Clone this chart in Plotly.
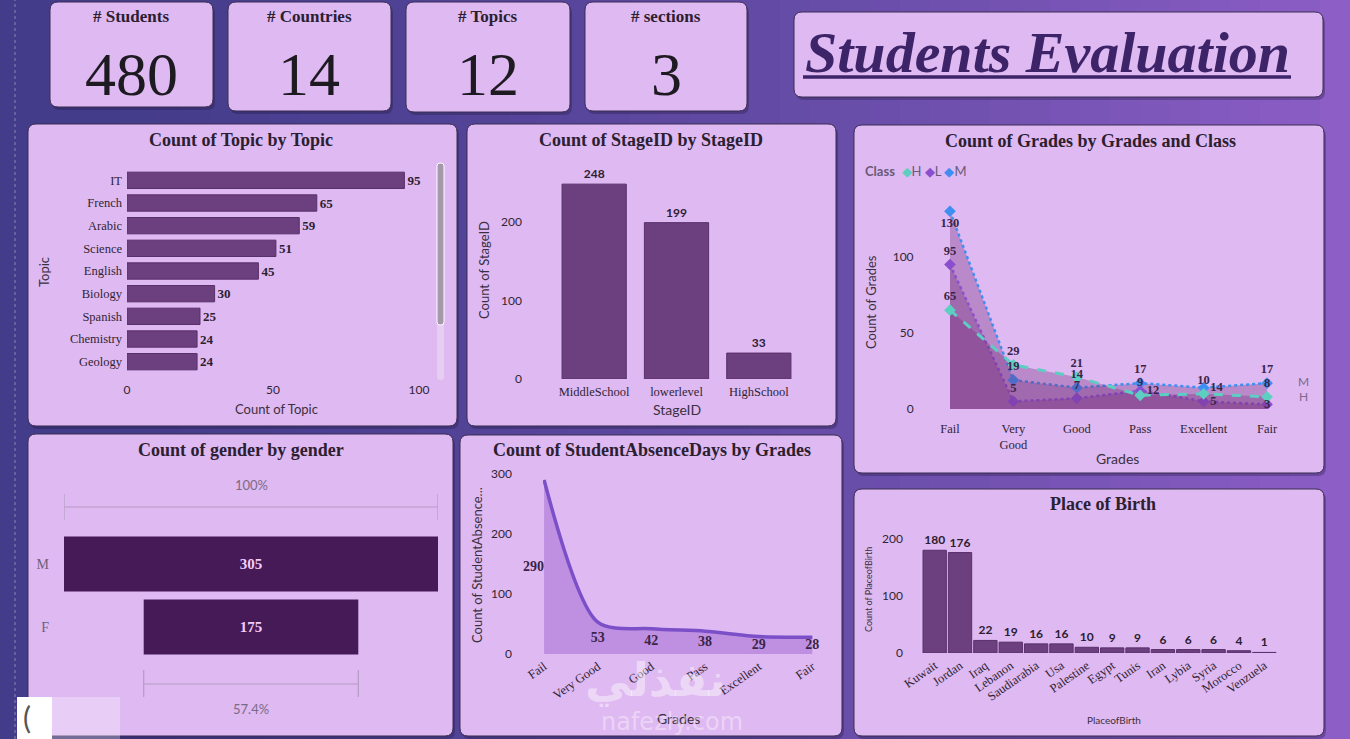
import plotly.graph_objects as go

W, H = 1350, 739

# ---- data ----
kpi_labels = ["# Students", "# Countries", "# Topics", "# sections"]
kpi_values = [480, 14, 12, 3]

topics = ["IT", "French", "Arabic", "Science", "English", "Biology", "Spanish", "Chemistry", "Geology"]
topic_counts = [95, 65, 59, 51, 45, 30, 25, 24, 24]

stages = ["MiddleSchool", "lowerlevel", "HighSchool"]
stage_counts = [248, 199, 33]

grades = ["Fail", "Very Good", "Good", "Pass", "Excellent", "Fair"]
class_h = [65, 29, 21, 9, 10, 8]
class_l = [95, 5, 7, 12, 5, 3]
class_m = [130, 19, 14, 17, 14, 17]

gender_labels = ["M", "F"]
gender_counts = [305, 175]

absence_counts = [290, 53, 42, 38, 29, 28]

places = ["Kuwait", "Jordan", "Iraq", "Lebanon", "Saudiarabia", "Usa", "Palestine", "Egypt",
          "Tunis", "Iran", "Lybia", "Syria", "Morocco", "Venzuela"]
place_counts = [180, 176, 22, 19, 16, 16, 10, 9, 9, 6, 6, 6, 4, 1]

# ---- styles ----
CARD = "#dfb9f2"
BAR = "#6c3f7f"
BAR_EDGE = "#59306b"
DARK = "#2b2030"
SERIF = "Liberation Serif"
SANS = "Lato"


def fx(px):
    return px / W


def fy(py):
    return 1 - py / H


def rrect(x0, y0, x1, y1, r=8):
    p = lambda x, y: f"{fx(x):.5f},{fy(y):.5f}"
    return (f"M{p(x0 + r, y0)} L{p(x1 - r, y0)} Q{p(x1, y0)} {p(x1, y0 + r)} "
            f"L{p(x1, y1 - r)} Q{p(x1, y1)} {p(x1 - r, y1)} L{p(x0 + r, y1)} "
            f"Q{p(x0, y1)} {p(x0, y1 - r)} L{p(x0, y0 + r)} Q{p(x0, y0)} {p(x0 + r, y0)} Z")


def note(text, x, y, size, color, family=SERIF, angle=0, **kw):
    d = dict(x=fx(x), y=fy(y), xref="paper", yref="paper", text=text, showarrow=False,
             xanchor="center", yanchor="middle", textangle=angle,
             font=dict(family=family, size=size, color=color))
    d.update(kw)
    return d


shapes = []
annotations = []

# background gradient
n = 45
c0, c1 = (66, 60, 138), (140, 94, 198)
for i in range(n):
    t = i / (n - 1)
    t2 = t ** 1.4
    col = tuple(int(c0[k] + (c1[k] - c0[k]) * t2) for k in range(3))
    shapes.append(dict(type="rect", xref="paper", yref="paper", x0=i / n, x1=(i + 1) / n + 0.002,
                       y0=0, y1=1, fillcolor=f"rgb{col}", line_width=0, layer="below"))

# dotted guide at left
shapes.append(dict(type="line", xref="paper", yref="paper", x0=fx(15), x1=fx(15), y0=0, y1=1,
                   line=dict(color="#8a86b0", width=1, dash="dot"), layer="below"))

cards = [
    (50, 2, 213, 107), (228, 2, 391, 111), (406, 2, 570, 112), (585, 2, 747, 111),
    (794, 12, 1323, 97),
    (28, 124, 457, 426), (467, 124, 836, 426), (854, 125, 1324, 473),
    (28, 434, 453, 736), (460, 435, 842, 736), (854, 489, 1324, 736),
]
for (x0, y0, x1, y1) in cards:
    shapes.append(dict(type="path", path=rrect(x0 + 2, y0 + 3, x1 + 2, y1 + 3), xref="paper", yref="paper",
                       fillcolor="rgba(30,20,60,0.3)", line_width=0, layer="below"))
    shapes.append(dict(type="path", path=rrect(x0, y0, x1, y1), xref="paper", yref="paper",
                       fillcolor=CARD, line=dict(color="#3b2e52", width=1), layer="below"))

# KPI cards
kpi_cx = [131, 309, 488, 666]
for cx, lab, val in zip(kpi_cx, kpi_labels, kpi_values):
    annotations.append(note(f"<b>{lab}</b>", cx, 17, 17, DARK))
    annotations.append(note(str(val), cx, 74, 62, "#1e1a22"))

# dashboard title
annotations.append(note("<b><i>Students Evaluation</i></b>", 1047, 52, 58, "#3d2468"))
shapes.append(dict(type="line", xref="paper", yref="paper", x0=fx(803), x1=fx(1291), y0=fy(77), y1=fy(77),
                   line=dict(color="#3d2468", width=3.5)))

# chart titles
titles = [
    ("Count of Topic by Topic", 241, 140), ("Count of StageID by StageID", 651, 140),
    ("Count of Grades by Grades and Class", 1090, 141), ("Count of gender by gender", 241, 450),
    ("Count of StudentAbsenceDays by Grades", 652, 450), ("Place of Birth", 1103, 504),
]
for t, x, y in titles:
    annotations.append(note(f"<b>{t}</b>", x, y, 18, DARK))

# axis titles
axis_titles = [
    ("Count of Topic", 276, 409, 0, 13), ("Topic", 44, 272, -90, 13),
    ("StageID", 677, 409, 0, 14), ("Count of StageID", 484, 270, -90, 13),
    ("Grades", 1117, 458, 0, 14), ("Count of Grades", 871, 302, -90, 13),
    ("Grades", 678, 718, 0, 14), ("Count of StudentAbsence...", 477, 565, -90, 13),
    ("PlaceofBirth", 1114, 720, 0, 10), ("Count of PlaceofBirth", 868, 590, -90, 9),
]
for t, x, y, ang, sz in axis_titles:
    annotations.append(note(t, x, y, sz, "#3a3040", family=SANS, angle=ang))

# scrollbar in topic card
shapes.append(dict(type="path", path=rrect(437, 163, 444, 380, 3), xref="paper", yref="paper",
                   fillcolor="#e6cdf2", line_width=0))
shapes.append(dict(type="path", path=rrect(437, 163, 444, 325, 3), xref="paper", yref="paper",
                   fillcolor="#a698ab", line=dict(color="white", width=1)))

fig = go.Figure()

# 1 topic bars
fig.add_trace(go.Bar(y=topics, x=topic_counts, orientation="h", marker=dict(color=BAR, line=dict(color=BAR_EDGE, width=1)),
                     text=topic_counts, textposition="outside", cliponaxis=False,
                     texttemplate="<b>%{x}</b>",
                     textfont=dict(family=SERIF, size=13, color=DARK), xaxis="x", yaxis="y", width=0.72))

# 2 stage bars
fig.add_trace(go.Bar(x=stages, y=stage_counts, marker=dict(color=BAR, line=dict(color=BAR_EDGE, width=1)),
                     text=stage_counts, textposition="outside", cliponaxis=False, width=0.78,
                     texttemplate="<b>%{y}</b>",
                     textfont=dict(family=SANS, size=12, color=DARK), xaxis="x2", yaxis="y2"))

# 3 grades by class (area lines), labels added afterwards so no line hides them
label_pos = {
    "H": ["top center"] * 6,
    "L": ["top center", "top center", "top center", "middle right", "middle right", "middle center"],
    "M": ["bottom center", "top center", "top center", "top center", "middle right", "top center"],
}
series = [("M", class_m, "#3f8ef2", "dot", 2.5), ("L", class_l, "#8a4fcf", "dot", 2.5), ("H", class_h, "#5ccfc2", "dash", 3)]
for name, vals, col, dash, w in series:
    fig.add_trace(go.Scatter(x=grades, y=vals, name=name, mode="lines+markers", fill="tozeroy",
                             fillcolor="rgba(112,40,118,0.33)", line=dict(color=col, width=w, dash=dash),
                             marker=dict(symbol="diamond", size=9, color=col),
                             showlegend=False, xaxis="x3", yaxis="y3"))
for name, vals, col, dash, w in series:
    fig.add_trace(go.Scatter(x=grades, y=vals, mode="markers+text", text=[f"<b>{v}</b>" for v in vals],
                             marker=dict(size=9, color="rgba(0,0,0,0)"), textposition=label_pos[name],
                             textfont=dict(family=SERIF, size=12.5, color="#3a2448"), cliponaxis=False,
                             showlegend=False, hoverinfo="skip", xaxis="x3", yaxis="y3"))

annotations.append(note('<b>Class</b>  <span style="color:#5ccfc2">◆</span>H <span style="color:#8a4fcf">◆</span>L '
                        '<span style="color:#3f8ef2">◆</span>M', 863, 171, 13, "#6a5a78", family=SANS,
                        xanchor="left"))
annotations.append(note("M", 1303, 381, 12, "#7a6a88", family=SANS))
annotations.append(note("H", 1303, 396, 12, "#7a6a88", family=SANS))

# 4 gender funnel
fig.add_trace(go.Funnel(y=gender_labels, x=gender_counts, textinfo="value", textposition="inside",
                        marker=dict(color="#461a57"), connector=dict(visible=False),
                        insidetextfont=dict(family=SERIF, size=15, color="#f2cdfb"),
                        texttemplate="<b>%{value}</b>", xaxis="x4", yaxis="y4"))
half_top = gender_counts[0] / 2
half_bot = gender_counts[-1] / 2
for half, yl, yt0, yt1 in [(half_top, 507, 494, 520), (half_bot, 684, 670, 697)]:
    shapes.append(dict(type="line", xref="x4", yref="paper", x0=-half, x1=half, y0=fy(yl), y1=fy(yl),
                       line=dict(color="#b59cc2", width=1.2)))
    for xx in (-half, half):
        shapes.append(dict(type="line", xref="x4", yref="paper", x0=xx, x1=xx, y0=fy(yt0), y1=fy(yt1),
                           line=dict(color="#b59cc2", width=1.2)))
annotations.append(dict(x=0, y=fy(485), xref="x4", yref="paper", text="100%", showarrow=False,
                        xanchor="center", yanchor="middle",
                        font=dict(family=SANS, size=13, color="#7a6a88")))
annotations.append(dict(x=0, y=fy(709), xref="x4", yref="paper",
                        text=f"{gender_counts[-1] / gender_counts[0] * 100:.1f}%", showarrow=False,
                        xanchor="center", yanchor="middle",
                        font=dict(family=SANS, size=13, color="#7a6a88")))

# 5 absence by grades
fig.add_trace(go.Scatter(x=grades, y=absence_counts, mode="lines", line=dict(color="#7a4fc8", width=3.5, shape="spline", smoothing=0.8),
                         fill="tozeroy", fillcolor="rgba(140,80,200,0.38)", showlegend=False, xaxis="x5", yaxis="y5"))
abs_pos = ["middle left"] + ["middle center"] * (len(absence_counts) - 1)
fig.add_trace(go.Scatter(x=grades, y=[v / 2 for v in absence_counts], mode="text",
                         text=[f"<b>{v}</b>" for v in absence_counts],
                         textposition=abs_pos, textfont=dict(family=SERIF, size=14, color="#3a2448"),
                         cliponaxis=False, showlegend=False, xaxis="x5", yaxis="y5"))

# 6 place of birth
fig.add_trace(go.Bar(x=places, y=place_counts, marker=dict(color=BAR, line=dict(color=BAR_EDGE, width=1)),
                     text=place_counts, textposition="outside", cliponaxis=False, width=0.92,
                     texttemplate="<b>%{y}</b>",
                     textfont=dict(family=SANS, size=12, color=DARK), xaxis="x6", yaxis="y6"))

# watermark
annotations.append(note("<b>نفذلي</b>", 655, 680, 46, "rgba(255,255,255,0.45)", family="DejaVu Sans"))
annotations.append(note("nafezly.com", 672, 722, 24, "rgba(255,255,255,0.4)", family="DejaVu Sans"))

# corner overlay bottom-left
shapes.append(dict(type="rect", xref="paper", yref="paper", x0=fx(17), x1=fx(52), y0=0, y1=fy(697),
                   fillcolor="white", line_width=0))
shapes.append(dict(type="rect", xref="paper", yref="paper", x0=fx(52), x1=fx(120), y0=0, y1=fy(697),
                   fillcolor="rgba(255,255,255,0.3)", line_width=0))
annotations.append(note("(", 27, 717, 30, "#555", family=SANS))

tick_num = dict(family=SANS, size=12, color="#2f2535")
tick_cat = dict(family=SERIF, size=12.5, color="#2f2535")
base = dict(showgrid=False, zeroline=False, showline=False, ticks="", automargin=False)


def dom(a, b):
    return [fx(a), fx(b)]


def domy(bottom, top):
    return [fy(bottom), fy(top)]


fig.update_layout(
    width=W, height=H, margin=dict(l=0, r=0, t=0, b=0, autoexpand=False), autosize=False,
    paper_bgcolor="#5a4aa0", plot_bgcolor="rgba(0,0,0,0)",
    showlegend=False, shapes=shapes, annotations=annotations, funnelgap=0.13,
    xaxis=dict(base, domain=dom(127, 419), range=[0, 100], tickvals=[0, 50, 100], tickfont=tick_num,
               anchor="y", ticklabelstandoff=8),
    yaxis=dict(base, domain=domy(373, 169), autorange="reversed", tickfont=tick_cat, anchor="x",
               ticklabelstandoff=4),
    xaxis2=dict(base, domain=dom(553, 800), tickfont=tick_cat, anchor="y2", ticklabelstandoff=3),
    yaxis2=dict(base, domain=domy(379, 159), range=[0, 280], tickvals=[0, 100, 200], tickfont=tick_num,
                anchor="x2", ticklabelstandoff=30),
    xaxis3=dict(base, domain=dom(924.6, 1292.4), range=[-0.4, 5.4], tickmode="array",
                tickvals=grades, ticktext=[g.replace(" ", "<br>") for g in grades], tickfont=tick_cat,
                anchor="y3", ticklabelstandoff=10),
    yaxis3=dict(base, domain=domy(409, 185.4), range=[0, 147], tickvals=[0, 50, 100], tickfont=tick_num,
                anchor="x3", ticklabelstandoff=10),
    xaxis4=dict(base, domain=dom(64, 438), range=[-gender_counts[0] / 2, gender_counts[0] / 2],
                showticklabels=False, anchor="y4"),
    yaxis4=dict(base, domain=domy(658.5, 532.5), tickfont=dict(family=SERIF, size=14, color="#6e6078"),
                anchor="x4", ticklabelstandoff=14),
    xaxis5=dict(base, domain=dom(543, 815), range=[-0.02, 5.05], tickangle=-35, tickfont=tick_cat,
                anchor="y5", ticklabelstandoff=2),
    yaxis5=dict(base, domain=domy(654, 468), range=[0, 310], tickvals=[0, 100, 200, 300], tickfont=tick_num,
                anchor="x5", ticklabelstandoff=30),
    xaxis6=dict(base, domain=dom(922, 1277), tickangle=-35, tickfont=tick_cat, anchor="y6",
                ticklabelstandoff=2),
    yaxis6=dict(base, domain=domy(653, 528), range=[0, 219], tickvals=[0, 100, 200], tickfont=tick_num,
                anchor="x6", ticklabelstandoff=18),
)

fig.write_html("out.html", config={"displayModeBar": False},
               post_script="document.body.style.margin='0';")
